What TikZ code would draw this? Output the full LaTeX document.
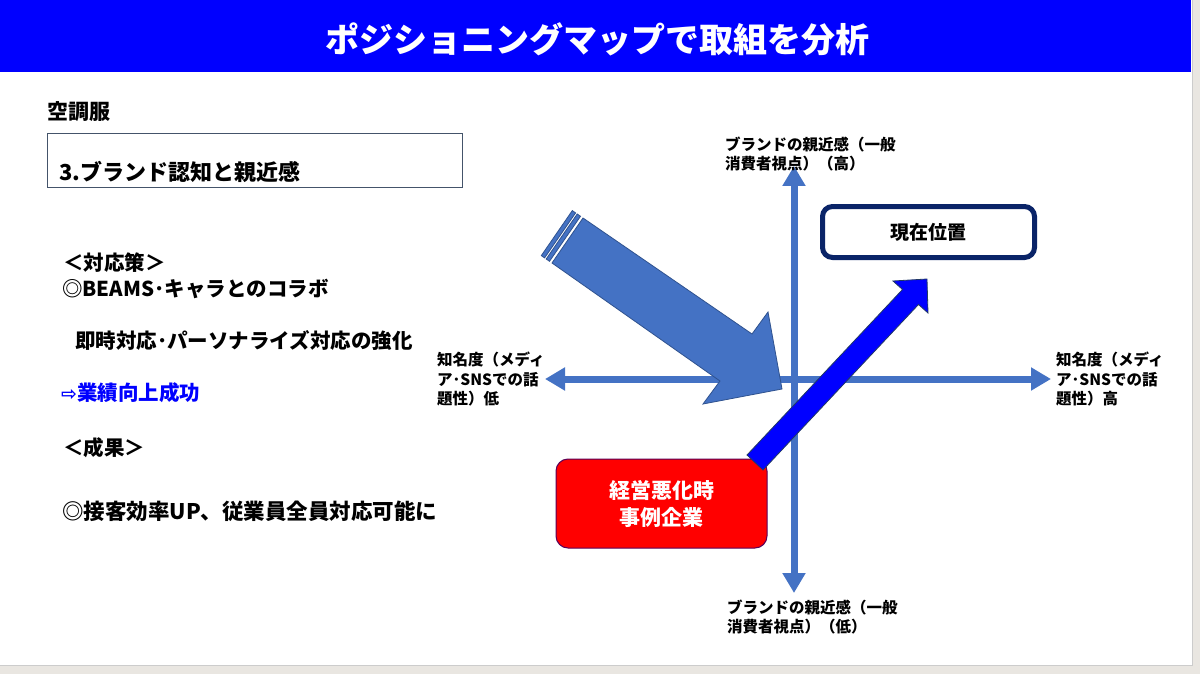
\documentclass[tikz,border=0pt]{standalone}
\usepackage{xcolor}
\usepackage{fontspec}
\setmainfont{Noto Sans CJK JP}
\newfontfamily\symbolfont{DejaVu Sans}
\usepackage{tikz}
\usetikzlibrary{arrows.meta,positioning}

\definecolor{headblue}{HTML}{0000FF}
\definecolor{axisblue}{HTML}{4472C4}
\definecolor{axisedge}{HTML}{2F528F}
\definecolor{framenavy}{HTML}{0A2468}
\definecolor{boxgray}{HTML}{44546A}
\definecolor{pagegray}{HTML}{E9E6E1}

\begin{document}
\begin{tikzpicture}[
    x=1pt, y=-1pt,
    title/.style={text=white, inner sep=0pt, font=\fontsize{34}{40}\selectfont\bfseries},
    body/.style={anchor=west, inner sep=0pt, font=\fontsize{20.5}{24}\selectfont\bfseries},
    axislabel/.style={anchor=west, inner sep=0pt, align=left, font=\fontsize{15.5}{19.5}\selectfont\bfseries},
    themebox/.style={rectangle, draw=boxgray, line width=0.9pt, minimum width=415pt, minimum height=54pt},
    crisisbox/.style={rectangle, draw=violet!70!black, fill=red, text=white, rounded corners=12pt, line width=1pt,
        minimum width=211pt, minimum height=89pt, align=center, font=\fontsize{21}{27}\selectfont\bfseries},
    nowbox/.style={rectangle, draw=framenavy, fill=white, rounded corners=10pt, line width=5pt,
        minimum width=212pt, minimum height=51pt, font=\fontsize{19}{22}\selectfont\bfseries},
    axis/.style={draw=axisblue, line width=7pt, {Triangle[length=20pt,width=22pt]}-{Triangle[length=20pt,width=22pt]}},
    bigarrow/.style={fill=axisblue, draw=axisedge, line width=0.8pt, line join=miter},
    movearrow/.style={fill=headblue, draw=axisedge!70!black, line width=0.8pt, line join=miter}
]
\useasboundingbox (0,0) rectangle (1200,674);

% Slide
\fill[pagegray] (0,0) rectangle (1200,674);
\fill[white] (0,0) rectangle (1192,665);
\draw[gray!40, line width=0.6pt] (1192,0) -- (1192,665) -- (0,665);
\fill[headblue] (0,0) rectangle (1191,72);
\node[title] (head) at (597,39) {ポジショニングマップで取組を分析};

% Left column
\node[body, font=\fontsize{21}{24}\selectfont\bfseries] (product) at (47,112) {空調服};
\node[themebox] (theme) at (254.5,160) {};
\node[body, font=\fontsize{22}{24}\selectfont\bfseries] (themetext) at (59,172) {3.ブランド認知と親近感};
\node[body] (measures) at (63,263) {＜対応策＞};
\node[body] (collab) at (62,289) {◎BEAMS･キャラとのコラボ};
\node[body] (service) at (75,341) {即時対応･パーソナライズ対応の強化};
\node[body, text=headblue] (success) at (61,393) {{\symbolfont\fontsize{19}{22}\selectfont ⇨}業績向上成功};
\node[body] (results) at (63,448) {＜成果＞};
\node[body, font=\fontsize{21.5}{24}\selectfont\bfseries] (effect) at (62,511) {◎接客効率UP、従業員全員対応可能に};

% Axes
\coordinate (top) at (794,166);
\coordinate (bottom) at (794,593);
\coordinate (left) at (545,379);
\coordinate (right) at (1051,379);
\draw[axis] (bottom) -- (top);
\draw[axis] (left) -- (right);

\node[axislabel] (toplabel) at (725,154) {ブランドの親近感（一般\\消費者視点）（高）};
\node[axislabel] (bottomlabel) at (727,617) {ブランドの親近感（一般\\消費者視点）（低）};
\node[axislabel] (leftlabel) at (437,379) {知名度（メディ\\ア･SNSでの話\\題性）低};
\node[axislabel] (rightlabel) at (1056,379) {知名度（メディ\\ア･SNSでの話\\題性）高};

% Striped arrow
\filldraw[bigarrow] (575.6,212.9) -- (572.3,210.6) -- (541.3,255.6) -- (544.6,257.9) -- cycle;
\filldraw[bigarrow] (580.5,216.3) -- (577.2,214.0) -- (546.2,259.0) -- (549.5,261.3) -- cycle;
\filldraw[bigarrow] (583,218) -- (752,334) -- (768,312) -- (782,389) -- (703,404) -- (720,381) -- (552,263) -- cycle;

% Boxes
\node[nowbox] (now) at (928.5,232) {現在位置};
\node[crisisbox] (crisis) at (661.5,503.5) {経営悪化時\\事例企業};

% Move from crisis to current position
\filldraw[movearrow] (747,455) -- (902.5,289.5) -- (893,281) -- (927,279) -- (928,313) -- (918.5,304.5) -- (763,470) -- cycle;

\end{tikzpicture}
\end{document}
